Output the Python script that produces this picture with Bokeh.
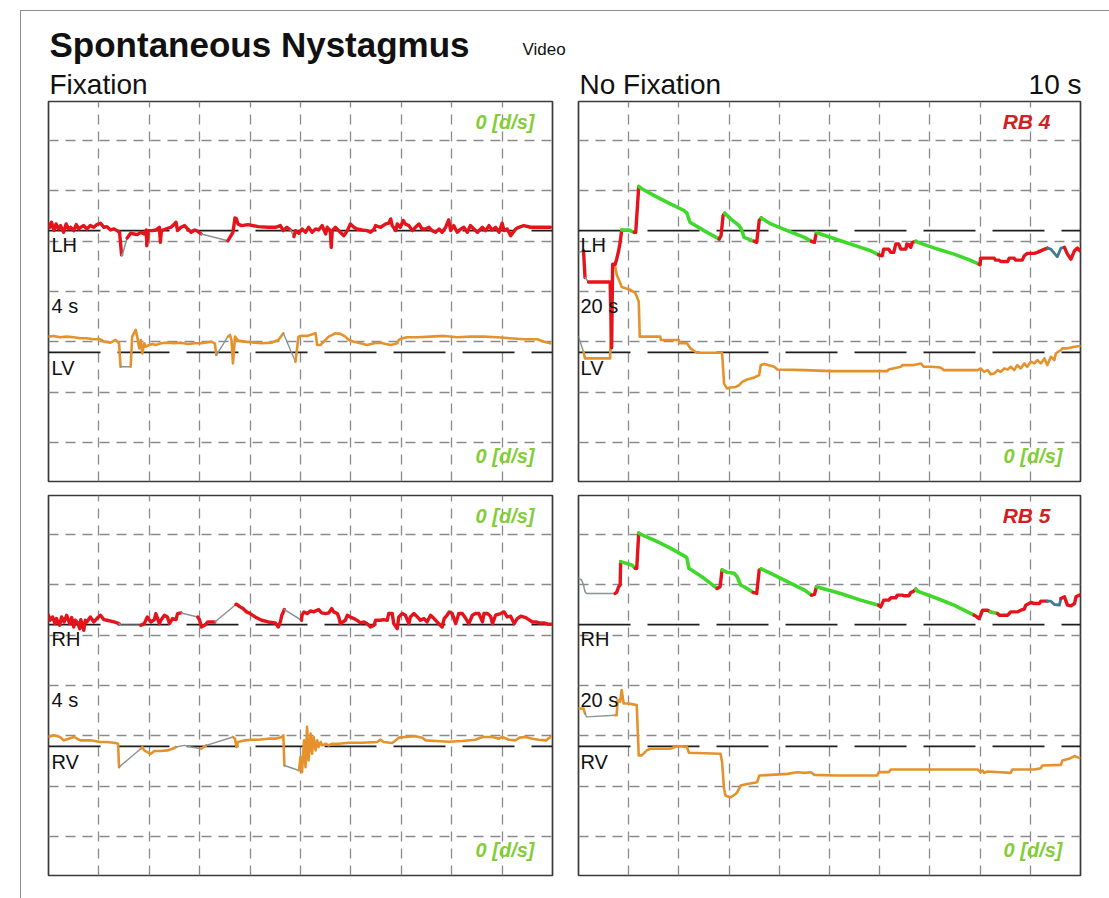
from bokeh.plotting import figure
from bokeh.layouts import row, column
from bokeh.models import Range1d, Grid, FixedTicker, Span, Label
from bokeh.embed import file_html
from bokeh.resources import INLINE

# Eye-position recordings, 10 s per panel.
# Time in seconds, position in degrees relative to each channel's zero line.
# Each trace is a list of runs (phase, samples); a run continues from the
# last sample of the previous run.
# phases: "n" plain, "f" fast phase, "s" slow phase, "x" signal lost, "u" unclassified

TL_LH = [
    ("n", [(0.00, 1.33), (0.03, 0.67), (0.06, 1.67), (0.11, 0.0), (0.15, 1.33), (0.20, 0.33),
           (0.24, 1.0), (0.30, -0.33), (0.35, 1.33), (0.40, 0.33), (0.44, 0.67), (0.50, 0.0),
           (0.55, 1.2), (0.60, 0.33), (0.64, 0.67), (0.70, 1.0), (0.76, 0.33), (0.83, 1.0),
           (0.90, 0.67), (0.96, 1.2), (1.03, 1.47), (1.10, 0.67), (1.16, 0.8), (1.23, 0.13),
           (1.30, 0.33), (1.36, 0.0), (1.41, -0.33), (1.45, -4.8)]),
    ("x", [(1.46, -5.0), (1.56, -1.47)]),
    ("n", [(1.63, -0.53), (1.70, -0.67), (1.76, -0.8), (1.83, -0.33), (1.90, -0.67), (1.94, 0.13),
           (1.95, -3.0), (1.98, 0.0), (2.06, 0.0), (2.13, 0.13), (2.20, 0.67), (2.22, -2.33),
           (2.24, 0.0), (2.33, 0.33), (2.43, 0.67), (2.50, 1.33), (2.53, 1.67), (2.56, 0.0),
           (2.63, 0.67), (2.70, 1.0), (2.76, 0.33), (2.83, -0.33), (2.90, 0.13), (2.96, -0.13),
           (3.03, -0.67)]),
    ("x", [(3.56, -2.0)]),
    ("n", [(3.60, -1.33), (3.66, -0.33), (3.70, 2.53), (3.73, 2.33), (3.76, 1.33), (3.83, 1.0),
           (3.96, 1.2), (4.16, 0.8), (4.36, 0.67), (4.50, 0.67), (4.60, 1.0), (4.66, 0.0),
           (4.73, 0.67), (4.80, 0.13)]),
    ("x", [(4.87, -1.2)]),
    ("n", [(4.90, 0.0), (4.97, -0.53), (5.03, 0.33), (5.10, -0.33), (5.16, 0.67), (5.23, -0.33),
           (5.30, 0.33), (5.36, 0.13), (5.43, 1.0), (5.50, -0.67), (5.53, 0.67), (5.59, 0.0),
           (5.61, -3.33), (5.63, 0.0), (5.69, 0.67), (5.79, -0.33), (5.86, -1.0), (5.93, 0.0),
           (5.99, 1.33), (6.06, 0.67), (6.12, 0.33), (6.22, 0.13), (6.32, 0.0), (6.39, -0.33),
           (6.46, 0.33), (6.49, 1.0), (6.59, 0.67), (6.69, 1.33), (6.75, 1.47), (6.79, 2.33),
           (6.82, 1.0), (6.89, 0.0), (6.92, 1.33), (6.98, 0.67), (7.04, 2.0), (7.08, 1.33),
           (7.15, 1.0), (7.22, 0.0), (7.28, 0.67), (7.35, 1.33), (7.41, 0.33), (7.48, 0.33),
           (7.55, 0.67), (7.61, 0.0), (7.68, -0.33), (7.75, 0.33), (7.81, -0.33), (7.88, 0.67),
           (7.94, 2.13), (7.98, 0.0), (8.04, 1.0), (8.11, -0.33), (8.18, 0.33), (8.24, 0.67),
           (8.31, -0.33), (8.37, 1.0), (8.44, 0.33), (8.51, -0.33), (8.61, 0.67), (8.67, 0.0),
           (8.74, 1.0), (8.80, 0.13), (8.87, 0.67), (8.94, -0.33), (9.00, 1.47), (9.04, 0.0),
           (9.10, 0.33), (9.17, -1.0), (9.27, 0.33), (9.33, 0.67), (9.43, 1.0), (9.57, 0.67),
           (9.96, 0.67)]),
]

TL_LV = [
    ("n", [(0.00, 3.13), (0.10, 3.27), (0.23, 3.0), (0.36, 3.13), (0.50, 3.0), (0.63, 2.8),
           (0.76, 2.8), (0.90, 2.6), (1.03, 2.6), (1.10, 2.13), (1.23, 1.93), (1.33, 2.47),
           (1.40, 1.8), (1.43, -2.87)]),
    ("x", [(1.63, -2.87)]),
    ("n", [(1.66, 3.13), (1.73, 4.47), (1.76, 3.13), (1.80, 0.8), (1.83, 2.47), (1.86, -0.2),
           (1.90, 1.8), (1.93, 1.13), (2.00, 1.47), (2.06, 1.67), (2.13, 1.47), (2.23, 1.8),
           (2.36, 1.93), (2.50, 1.8), (2.63, 1.93), (2.76, 1.67), (2.90, 1.8), (3.03, 1.8),
           (3.16, 2.0), (3.23, 2.13), (3.30, 1.8), (3.33, -0.53)]),
    ("x", [(3.56, 3.13)]),
    ("n", [(3.60, 3.47), (3.63, 2.47), (3.66, -2.2), (3.70, 3.13), (3.76, 2.33), (3.90, 2.13),
           (4.10, 1.93), (4.23, 1.8), (4.43, 1.93), (4.56, 2.47), (4.66, 3.8)]),
    ("x", [(4.90, -1.87)]),
    ("n", [(4.96, 3.13), (5.00, 3.27), (5.13, 3.27), (5.30, 3.8), (5.33, 1.47), (5.40, 1.47),
           (5.46, 2.13), (5.56, 3.13), (5.63, 3.47), (5.69, 3.8), (5.79, 3.67), (5.89, 3.13),
           (5.96, 2.47), (6.06, 2.13), (6.19, 1.8), (6.32, 1.47), (6.46, 1.8), (6.59, 1.93),
           (6.69, 1.67), (6.79, 1.47), (6.92, 1.8), (6.95, 2.47), (7.02, 2.8), (7.12, 3.0),
           (7.32, 3.0), (7.58, 3.13), (7.85, 3.27), (8.11, 3.0), (8.37, 3.13), (8.64, 3.13),
           (8.90, 3.0), (9.17, 2.8), (9.43, 2.6), (9.70, 2.6), (9.83, 2.13), (9.96, 1.8)]),
]

BL_RH = [
    ("n", [(0.00, 1.87), (0.03, 0.87), (0.08, 1.53), (0.13, 0.2), (0.16, 1.2), (0.22, -0.13),
           (0.26, 1.53), (0.31, 0.53), (0.36, 1.87), (0.42, 0.2), (0.46, 1.4), (0.50, -0.47),
           (0.53, 0.87), (0.58, 0.33), (0.62, -0.8), (0.64, 1.0), (0.70, -1.13), (0.73, 0.87),
           (0.76, 0.53), (0.83, 1.53), (0.90, 0.53), (0.96, 1.2), (1.03, 1.87), (1.10, 1.0),
           (1.16, 0.87), (1.30, 0.53), (1.40, 0.2)]),
    ("x", [(1.43, -0.13), (1.83, -0.13)]),
    ("n", [(1.90, 0.2), (1.96, 1.53), (2.03, 0.53), (2.10, 1.0), (2.13, 2.2), (2.20, 0.2),
           (2.23, 0.87), (2.30, 1.87), (2.36, 1.53), (2.40, 0.2), (2.46, 1.2), (2.53, 1.0),
           (2.56, 2.2), (2.63, 2.33)]),
    ("x", [(2.96, 1.53)]),
    ("n", [(3.00, 0.87), (3.03, -0.47), (3.10, -0.13), (3.16, 0.53), (3.30, 0.53)]),
    ("x", [(3.72, 4.0)]),
    ("n", [(3.73, 4.07), (3.80, 3.53), (3.86, 3.2), (3.93, 2.53), (4.00, 2.2), (4.10, 1.53),
           (4.23, 0.87), (4.36, 0.53), (4.50, 0.33), (4.56, -0.47), (4.60, 0.53), (4.63, 1.87),
           (4.68, 3.0)]),
    ("x", [(5.02, 0.87)]),
    ("n", [(5.03, 1.87), (5.07, 2.53), (5.13, 2.2), (5.20, 2.73), (5.26, 2.53), (5.36, 3.0),
           (5.42, 2.33), (5.50, 2.2), (5.56, 2.33), (5.62, 3.2), (5.66, 2.53), (5.73, 2.2),
           (5.76, 1.53), (5.79, 0.2), (5.89, 0.87), (5.93, 1.87), (5.99, 1.53), (6.06, 1.2),
           (6.12, 0.87), (6.19, 0.33), (6.26, 0.53), (6.32, 0.2), (6.39, -0.47), (6.46, -0.13),
           (6.49, 0.87), (6.59, 0.87), (6.65, 1.0), (6.72, 0.87), (6.75, 2.2), (6.82, 2.2),
           (6.85, 0.2), (6.92, -0.8), (6.95, 1.53), (7.02, 2.2), (7.08, 1.87), (7.15, 0.2),
           (7.18, 1.53), (7.25, 2.2), (7.32, 1.53), (7.38, 0.87), (7.45, 1.2), (7.51, 0.53),
           (7.58, 1.87), (7.65, 1.2), (7.71, 0.53), (7.81, -0.47), (7.85, 1.2), (7.91, 1.87),
           (7.95, 2.53), (8.01, 2.2), (8.08, 0.2), (8.14, 2.2), (8.21, 2.2), (8.28, 1.2),
           (8.34, 0.2), (8.41, 1.87), (8.47, 2.2), (8.54, 2.2), (8.61, 0.53), (8.64, 2.2),
           (8.71, 2.2), (8.77, 1.67), (8.81, 0.2), (8.87, 1.87), (8.97, 2.2), (9.04, 2.53),
           (9.10, 1.53), (9.17, 1.67), (9.24, 0.2), (9.30, 1.2), (9.37, 1.67), (9.47, 1.4),
           (9.53, 1.0), (9.60, 0.53), (9.67, 0.53), (9.73, 0.33), (9.83, 0.33), (9.93, 0.07),
           (9.98, 0.07)]),
]

BL_RV = [
    ("n", [(0.00, 1.87), (0.10, 2.2), (0.23, 1.87), (0.30, 1.2), (0.40, 1.53), (0.50, 1.87),
           (0.63, 1.2), (0.83, 1.2), (1.03, 0.87), (1.16, 0.87), (1.33, 0.67), (1.38, 0.53),
           (1.40, -4.13)]),
    ("x", [(1.83, -0.47)]),
    ("n", [(1.86, -0.13), (1.90, -0.8), (1.96, -1.13), (2.03, -1.47), (2.10, -0.93), (2.23, -0.93),
           (2.36, -0.8), (2.46, -0.47), (2.53, -0.13)]),
    ("x", [(2.70, 0.2), (2.83, -0.13), (3.03, -0.47)]),
    ("n", [(3.13, 0.2)]),
    ("x", [(3.66, 1.87)]),
    ("n", [(3.70, 1.53), (3.73, -0.13), (3.76, 0.87), (3.90, 1.2), (4.03, 1.33), (4.16, 1.33),
           (4.36, 1.53), (4.50, 1.53), (4.63, 1.87), (4.66, 2.2), (4.68, -3.8)]),
    ("x", [(4.97, -4.8)]),
    ("n", [(5.00, -2.13), (5.03, -5.13), (5.07, 1.2), (5.10, -4.13), (5.13, 3.87), (5.16, -2.8),
           (5.20, 2.53), (5.23, -1.47), (5.26, 1.87), (5.30, -0.8), (5.33, 1.2), (5.36, -0.13),
           (5.40, 0.87), (5.43, 0.2), (5.50, 0.53), (5.56, 0.2), (5.63, 0.53), (5.76, 0.53),
           (5.96, 0.73), (6.22, 0.73), (6.52, 0.87), (6.59, 1.33), (6.65, 0.87), (6.82, 0.67),
           (6.89, 1.2), (6.95, 1.73), (7.08, 1.87), (7.28, 2.0), (7.42, 1.73), (7.48, 1.2),
           (7.68, 1.07), (7.95, 0.93), (8.21, 1.07), (8.47, 1.33), (8.61, 1.87), (8.81, 1.87),
           (8.94, 1.53), (9.00, 1.87), (9.14, 1.33), (9.27, 1.2), (9.34, 1.73), (9.47, 1.87),
           (9.60, 1.53), (9.73, 1.33), (9.87, 1.2), (9.96, 1.87)]),
]

TR_LH = [
    ("x", [(0.00, -4.33), (0.10, -4.0)]),
    ("f", [(0.13, -9.33)]),
    ("x", [(0.20, -10.2)]),
    ("f", [(0.63, -10.2), (0.66, -23.3), (0.68, -6.67), (0.73, -6.67), (0.76, -5.67), (0.80, -4.0),
           (0.83, -2.33), (0.86, 0.13)]),
    ("s", [(1.00, 0.13), (1.11, -0.33)]),
    ("f", [(1.14, -0.33), (1.20, 8.8)]),
    ("s", [(1.26, 8.33), (1.50, 7.0), (1.76, 5.67), (2.10, 4.0), (2.16, 3.47), (2.22, 1.67),
           (2.50, 0.0), (2.80, -1.67)]),
    ("f", [(2.84, -1.0), (2.88, 3.0), (2.91, 3.47)]),
    ("s", [(3.03, 2.33), (3.20, 1.0), (3.24, 0.33), (3.30, -1.33), (3.50, -2.13)]),
    ("f", [(3.55, -2.33), (3.60, 2.0), (3.64, 2.53)]),
    ("s", [(3.83, 1.33), (4.16, 0.0), (4.50, -1.33), (4.64, -2.13)]),
    ("f", [(4.70, -2.33), (4.74, -0.33)]),
    ("s", [(4.82, -0.67), (5.22, -2.0), (5.62, -3.33), (5.82, -4.0), (5.98, -4.8)]),
    ("f", [(6.05, -5.0), (6.08, -3.67), (6.18, -3.67), (6.22, -4.33), (6.28, -4.33), (6.32, -2.67),
           (6.38, -2.67), (6.42, -3.67), (6.52, -3.67), (6.54, -2.67), (6.58, -2.8), (6.62, -3.33),
           (6.65, -2.33), (6.72, -2.13)]),
    ("s", [(6.82, -2.53), (7.15, -3.67), (7.48, -4.67), (7.75, -5.67), (7.98, -6.67)]),
    ("f", [(8.00, -6.8), (8.01, -5.47), (8.28, -5.47), (8.31, -5.87), (8.38, -5.87), (8.41, -6.13),
           (8.55, -6.13), (8.58, -5.47), (8.68, -5.47), (8.71, -5.87), (8.84, -5.87), (8.88, -5.0),
           (8.94, -4.53), (9.08, -4.53), (9.14, -4.33), (9.24, -3.87), (9.34, -3.47)]),
    ("u", [(9.41, -3.67), (9.48, -4.53), (9.54, -5.2), (9.61, -3.47), (9.68, -3.33)]),
    ("f", [(9.74, -4.67), (9.81, -5.67), (9.88, -4.0), (9.94, -3.47), (9.99, -4.0)]),
]

TR_LV = [
    ("x", [(0.00, 3.13), (0.10, 0.13)]),
    ("n", [(0.13, -1.2), (0.63, -1.2), (0.68, 17.13), (0.73, 17.13), (0.76, 15.47), (0.83, 13.8),
           (0.86, 13.0), (1.03, 12.47), (1.13, 11.8), (1.16, 11.13), (1.20, 10.13), (1.22, 3.13),
           (1.63, 3.13), (1.64, 2.47), (2.00, 2.47), (2.02, 1.8), (2.16, 1.8), (2.23, 0.8),
           (2.36, -0.07), (2.86, -0.07), (2.90, -6.2), (2.96, -7.2), (3.03, -7.0), (3.13, -6.87),
           (3.20, -6.53), (3.26, -5.87), (3.36, -5.4), (3.50, -5.0), (3.60, -4.53), (3.63, -2.53),
           (3.70, -2.33), (3.90, -2.87), (3.96, -3.4), (4.50, -3.53), (5.03, -3.73), (6.15, -3.73),
           (6.18, -3.4), (6.42, -2.87), (6.45, -2.53), (6.68, -2.53), (6.82, -2.2), (6.88, -2.87),
           (7.02, -2.87), (7.21, -3.0), (7.28, -3.53), (7.95, -3.53), (8.01, -3.2), (8.08, -3.87),
           (8.15, -3.53), (8.21, -4.33), (8.28, -4.2), (8.35, -3.53), (8.41, -3.87), (8.48, -3.2),
           (8.55, -3.4), (8.61, -2.87), (8.68, -3.53), (8.74, -2.53), (8.81, -3.2), (8.88, -2.2),
           (8.94, -2.87), (9.01, -1.87), (9.08, -2.2), (9.14, -1.53), (9.21, -2.2), (9.28, -1.2),
           (9.34, -2.53), (9.41, -0.87), (9.48, -1.53), (9.51, -0.2), (9.61, 0.47), (9.64, 0.8),
           (9.74, 0.8), (9.88, 1.13), (10.0, 1.27)]),
]

BR_RH = [
    ("x", [(0.00, 9.2), (0.06, 8.87), (0.10, 7.87), (0.13, 6.53), (0.16, 6.2), (0.73, 6.2)]),
    ("f", [(0.76, 6.4), (0.80, 7.53), (0.83, 7.87), (0.84, 12.53)]),
    ("s", [(1.06, 11.87), (1.13, 11.2)]),
    ("f", [(1.16, 11.2), (1.20, 18.2)]),
    ("s", [(1.23, 18.0), (1.56, 16.53), (1.83, 15.2), (2.13, 13.53), (2.16, 13.2), (2.20, 11.2),
           (2.50, 9.2), (2.76, 7.2)]),
    ("f", [(2.82, 7.53), (2.86, 10.87)]),
    ("s", [(2.96, 10.4), (3.10, 10.2), (3.16, 9.53), (3.23, 7.87), (3.30, 7.53), (3.48, 6.4)]),
    ("f", [(3.55, 6.2), (3.60, 10.87), (3.64, 11.07)]),
    ("s", [(3.83, 10.2), (4.16, 8.53), (4.50, 6.87), (4.64, 5.87)]),
    ("f", [(4.70, 6.0), (4.74, 7.53)]),
    ("s", [(4.90, 7.07), (5.22, 6.2), (5.62, 4.87), (5.98, 3.87)]),
    ("f", [(6.02, 3.53), (6.08, 4.87), (6.18, 4.87), (6.22, 5.33), (6.32, 5.33), (6.35, 5.87),
           (6.45, 5.87), (6.48, 5.73), (6.58, 5.73), (6.62, 6.4), (6.68, 6.67), (6.72, 7.07)]),
    ("s", [(6.75, 6.67), (7.15, 5.2), (7.48, 3.87), (7.88, 1.87)]),
    ("f", [(7.91, 1.73), (7.98, 1.2), (8.01, 1.87), (8.05, 2.87), (8.15, 2.87), (8.21, 2.53)]),
    ("s", [(8.35, 2.2)]),
    ("f", [(8.38, 1.87), (8.55, 1.87), (8.61, 2.53), (8.74, 2.53), (8.81, 2.87), (8.88, 3.07),
           (8.91, 3.87), (9.01, 4.4), (9.08, 4.2), (9.18, 4.2), (9.21, 4.67), (9.34, 4.67)]),
    ("u", [(9.41, 4.67), (9.48, 4.0), (9.58, 3.87), (9.61, 5.2)]),
    ("f", [(9.68, 5.53), (9.74, 3.87), (9.81, 3.73), (9.88, 4.2), (9.91, 5.53), (9.98, 5.87)]),
]

BR_RV = [
    ("n", [(0.00, 7.53), (0.10, 7.53), (0.13, 6.53)]),
    ("x", [(0.16, 5.87), (0.73, 6.2)]),
    ("n", [(0.76, 6.2), (0.78, 9.2), (0.83, 8.87), (0.86, 11.2), (0.90, 8.53), (1.00, 8.53),
           (1.16, 8.2), (1.20, -1.8), (1.26, -1.8), (1.36, -0.8), (1.43, -0.47), (1.83, -0.47),
           (1.96, 0.07), (2.16, -0.13), (2.20, -1.27), (2.83, -1.47), (2.86, -3.13), (2.90, -8.47),
           (2.93, -9.8), (3.03, -10.13), (3.13, -9.47), (3.16, -9.13), (3.23, -7.8), (3.36, -7.47),
           (3.56, -7.13), (3.60, -5.8), (3.83, -5.67), (4.16, -5.47), (4.36, -5.13), (4.50, -5.27),
           (4.63, -5.13), (4.70, -5.67), (5.13, -5.8), (5.95, -5.8), (5.98, -5.13), (6.18, -5.13),
           (6.22, -4.6), (7.95, -4.6), (8.01, -5.13), (8.05, -4.8), (8.08, -5.27), (8.15, -5.0),
           (8.61, -5.27), (8.64, -4.6), (9.08, -4.6), (9.21, -4.33), (9.24, -3.8), (9.61, -3.67),
           (9.64, -2.8), (9.77, -2.47), (9.88, -1.93), (9.98, -2.33)]),
]

# channel labels, durations and panel tags
TITLE = "Spontaneous Nystagmus"
SOURCE = "Video"
CONDITIONS = ["Fixation", "No Fixation"]
SPAN_LABEL = "10 s"
CHANNELS = [("LH", "LV"), ("RH", "RV")]
DURATIONS = ["4 s", "20 s"]
RESULTS = [None, "RB 4", None, "RB 5"]
SPV_LABEL = "0 [d/s]"

# layout constants
SECONDS = 10
DEG_PER_DIV = 10
HALF_SPAN = 37.77
H_ZERO = 12.1
V_ZERO = -12.1
FONT = "Liberation Sans"
MID = 0.35  # distance from text middle to baseline, in font sizes

H_STYLE = {"n": ("#e5141c", 3.4), "f": ("#e5141c", 3.4), "s": ("#3fd92c", 3.6),
           "x": ("#8a9494", 1.5), "u": ("#3d7d8f", 2.8)}
V_STYLE = {"n": ("#e5922c", 2.6), "x": ("#8a9494", 1.4)}


def panel(width, height, left, right, top, bottom):
    p = figure(width=width, height=height, title=None,
               x_range=Range1d(0, SECONDS), y_range=Range1d(-HALF_SPAN, HALF_SPAN),
               x_axis_location=None, y_axis_location=None,
               toolbar_location=None, output_backend="svg",
               min_border_left=left, min_border_right=right,
               min_border_top=top, min_border_bottom=bottom,
               background_fill_color="white", border_fill_color="white")
    p.center = [r for r in p.center if not isinstance(r, Grid)]
    p.outline_line_color = "#3a3a3a"
    p.outline_line_width = 1.7
    p.add_layout(Grid(dimension=0, ticker=FixedTicker(ticks=list(range(1, SECONDS))),
                      grid_line_color="#8a8a8a", grid_line_width=1.3, grid_line_dash="10 7"))
    p.add_layout(Grid(dimension=1, ticker=FixedTicker(ticks=[k * DEG_PER_DIV for k in range(-3, 4)]),
                      grid_line_color="#8a8a8a", grid_line_width=1.3, grid_line_dash="10 7"))
    for loc in (H_ZERO, V_ZERO):
        p.add_layout(Span(location=loc, dimension="width", line_color="#1e1e1e",
                          line_width=1.6, line_dash="52 17", level="underlay"))
    return p


def trace(p, runs, zero, style):
    prev = None
    for phase, pts in runs:
        xs = [t for t, _ in pts]
        ys = [v + zero for _, v in pts]
        if prev is not None:
            xs = [prev[0]] + xs
            ys = [prev[1]] + ys
        color, width = style[phase]
        p.line(xs, ys, line_color=color, line_width=width,
               line_join="round", line_cap="round")
        prev = (xs[-1], ys[-1])


def text(p, txt, sx, base, size, color="#111111", style="normal", align="left"):
    # base: baseline height above the frame bottom, in pixels
    p.add_layout(Label(x=sx, y=base + MID * size, x_units="screen", y_units="screen", text=txt,
                       text_font=FONT, text_font_size=f"{size}px", text_font_style=style,
                       text_color=color, text_align=align, text_baseline="middle"))


GREEN_TXT = "#84cd3a"
RED_TXT = "#d21f1f"

# heading strip above the panels
head = figure(width=1088, height=89, title=None, x_range=Range1d(0, 1), y_range=Range1d(0, 1),
              x_axis_location=None, y_axis_location=None, toolbar_location=None,
              output_backend="svg", min_border_left=0, min_border_right=0,
              min_border_top=0, min_border_bottom=0,
              background_fill_color="white", border_fill_color="white")
head.center = [r for r in head.center if not isinstance(r, Grid)]
head.outline_line_color = None
text(head, TITLE, 28, 44, 35, style="bold")
text(head, SOURCE, 501, 45, 17)
text(head, CONDITIONS[0], 28, 6, 28)
text(head, CONDITIONS[1], 558, 6, 28)
text(head, SPAN_LABEL, 1060, 6, 28, align="right")

tl = panel(542, 388, 27, 11, 1, 7)
tr = panel(546, 388, 15, 29, 1, 7)
bl = panel(542, 410, 27, 11, 7, 23)
br = panel(546, 410, 15, 29, 7, 23)

trace(tl, TL_LV, V_ZERO, V_STYLE)
trace(tl, TL_LH, H_ZERO, H_STYLE)
trace(tr, TR_LV, V_ZERO, V_STYLE)
trace(tr, TR_LH, H_ZERO, H_STYLE)
trace(bl, BL_RV, V_ZERO, V_STYLE)
trace(bl, BL_RH, H_ZERO, H_STYLE)
trace(br, BR_RV, V_ZERO, V_STYLE)
trace(br, BR_RH, H_ZERO, H_STYLE)

panels = [tl, tr, bl, br]
for i, p in enumerate(panels):
    right_col = i % 2 == 1
    h_lab, v_lab = CHANNELS[i // 2]
    lx = 2 if right_col else 3
    text(p, h_lab, lx, 230, 20)
    text(p, DURATIONS[1] if right_col else DURATIONS[0], lx, 169, 20)
    text(p, v_lab, lx, 107, 20)
    spv_x = 484 if right_col else 486
    if RESULTS[i]:
        text(p, RESULTS[i], 472, 353, 21, color=RED_TXT, style="bold italic", align="right")
    else:
        text(p, SPV_LABEL, spv_x, 353, 20, color=GREEN_TXT, style="bold italic", align="right")
    text(p, SPV_LABEL, spv_x, 19, 20, color=GREEN_TXT, style="bold italic", align="right")

layout = column(head, row(tl, tr, spacing=0), row(bl, br, spacing=0), spacing=0,
                margin=(10, 0, 0, 20),
                styles={"border-left": "1px solid #8c8c8c", "border-top": "1px solid #8c8c8c"})

open("out.html", "w").write(file_html(layout, INLINE))
